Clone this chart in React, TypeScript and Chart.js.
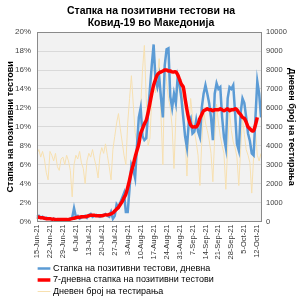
import React, { useEffect, useRef } from "react";
import { Chart, registerables } from "chart.js";

Chart.register(...registerables);

const startDate = "2021-06-15";
const tickLabels = ["15-Jun-21","22-Jun-21","29-Jun-21","6-Jul-21","13-Jul-21","20-Jul-21","27-Jul-21","3-Aug-21","10-Aug-21","17-Aug-21","24-Aug-21","31-Aug-21","7-Sep-21","14-Sep-21","21-Sep-21","28-Sep-21","5-Oct-21","12-Oct-21"];

const positivityDaily = [
  0.5,0.6,0.4,0.5,0.3,0.4,0.3,
  0.3,0.2,0.3,0.2,0.1,0.2,0.1,
  0.1,0.2,0.1,0.2,0.3,0.4,1.4,
  0.5,0.6,0.3,0.4,0.5,0.6,0.4,
  0.7,0.8,0.5,0.6,0.7,0.6,0.5,
  0.6,0.7,0.8,0.6,0.5,1.0,0.3,
  0.6,1.8,1.5,2.0,2.5,3.0,1.0,
  1.0,3.5,6.0,5.5,4.6,8.0,11.0,
  12.0,9.0,8.6,8.8,11.4,14.0,16.5,
  18.7,15.0,14.2,15.3,13.0,11.0,16.5,
  18.2,18.3,13.2,12.0,13.5,12.5,15.3,
  14.5,13.0,11.0,9.0,7.8,10.5,10.9,
  9.3,9.5,10.7,9.5,8.9,12.0,13.5,
  14.4,13.5,12.5,11.0,8.6,13.5,14.6,
  14.0,14.2,11.0,8.9,7.8,13.0,14.2,
  14.0,14.4,11.5,8.2,7.5,11.5,13.0,
  12.5,11.0,9.3,8.5,7.2,7.0,11.0,
  14.8,13.5,11.0
];

const positivity7Day = [
  0.5,0.45,0.4,0.4,0.35,0.3,0.3,
  0.3,0.25,0.25,0.2,0.2,0.2,0.2,
  0.2,0.2,0.2,0.2,0.25,0.3,0.35,
  0.4,0.45,0.45,0.5,0.5,0.5,0.55,
  0.6,0.65,0.65,0.65,0.6,0.6,0.6,
  0.6,0.65,0.7,0.7,0.75,0.8,0.9,
  1.1,1.3,1.5,1.8,2.1,2.5,2.9,
  3.6,4.4,5.3,6.0,6.8,7.5,8.2,
  9.3,9.8,10.3,10.7,11.5,12.5,13.5,
  14.4,15.0,15.5,15.7,15.8,15.9,16.0,
  16.0,15.9,15.9,15.8,15.8,15.8,15.5,
  15.0,14.5,14.2,13.0,11.8,10.8,10.2,
  10.0,10.0,10.0,10.3,10.9,11.3,11.7,
  11.8,11.9,11.8,11.8,11.7,11.8,11.8,
  11.8,11.9,11.8,11.7,11.8,11.9,11.7,
  11.8,11.8,11.9,11.8,11.5,11.3,11.0,
  10.9,10.5,10.0,9.8,9.6,9.6,10.2,
  11.0,null,null
];

const dailyTests = [
  3600,3800,3400,3700,3300,2600,2200,
  3700,3500,3200,3600,2900,2700,3300,
  3400,3000,3500,3200,2700,1300,3000,
  3500,3300,3700,3100,2800,2000,3200,
  3600,3400,3800,3300,2900,2300,3500,
  3900,3600,4100,3500,2900,2200,3800,
  4500,5200,5700,4900,4200,3500,3000,
  5200,6500,7700,6200,4700,4200,5500,
  6000,8000,9300,6500,4000,4400,6500,
  7200,6800,7500,8600,5500,3000,8300,
  7400,6500,6000,5000,2800,5500,7500,
  6800,7200,6000,4500,2400,4800,6500,
  5500,4800,4200,3500,1900,4200,5900,
  5200,4800,4300,3600,2100,4500,6200,
  5200,4500,4000,3600,1700,3900,5800,
  4800,4200,3900,3400,1900,3800,5500,
  4600,3800,3500,3100,1500,3400,4800,
  3500,3200,3600
];

const seriesNames = [
  "Стапка на позитивни тестови, дневна",
  "7-дневна стапка на позитивни тестови",
  "Дневен број на тестирања",
];
const titleLines = ["Стапка на позитивни тестови на", "Ковид-19 во Македонија"];
const leftAxisTitle = "Стапка на позитивни тестови";
const rightAxisTitle = "Дневен број на тестирања";

const MONTHS = ["Jan","Feb","Mar","Apr","May","Jun","Jul","Aug","Sep","Oct","Nov","Dec"];
function buildDayLabels(n: number): string[] {
  const out: string[] = [];
  const d0 = new Date(startDate + "T12:00:00Z");
  for (let i = 0; i < n; i++) {
    const d = new Date(d0.getTime() + i * 86400000);
    out.push(`${d.getUTCDate()}-${MONTHS[d.getUTCMonth()]}-21`);
  }
  return out;
}

const FONT = "'Liberation Sans', Arial, sans-serif";

const plotBg = {
  id: "plotBg",
  beforeDraw(chart: any) {
    const { ctx, chartArea: a } = chart;
    ctx.save();
    ctx.fillStyle = "#f2f2f2";
    ctx.fillRect(a.left, a.top, a.right - a.left, a.bottom - a.top);
    ctx.restore();
  },
  afterDatasetsDraw(chart: any) {
    const { ctx, chartArea: a } = chart;
    ctx.save();
    ctx.strokeStyle = "#8a8a8a";
    ctx.lineWidth = 1;
    ctx.strokeRect(Math.round(a.left) + 0.5, Math.round(a.top) + 0.5, Math.round(a.right - a.left), Math.round(a.bottom - a.top));
    ctx.restore();
  },
};

export default function App() {
  const ref = useRef<HTMLCanvasElement | null>(null);
  useEffect(() => {
    if (!ref.current) return;
    const labels = buildDayLabels(positivityDaily.length);
    const chart = new Chart(ref.current, {
      type: "line",
      data: {
        labels,
        datasets: [
          {
            label: seriesNames[0],
            data: positivityDaily,
            borderColor: "#5b9bd5",
            backgroundColor: "#5b9bd5",
            borderWidth: 2.5,
            pointRadius: 0,
            tension: 0,
            yAxisID: "y",
            order: 1,
          },
          {
            label: seriesNames[1],
            data: positivity7Day,
            borderColor: "#ff0000",
            backgroundColor: "#ff0000",
            borderWidth: 3.5,
            pointRadius: 0,
            tension: 0.3,
            yAxisID: "y",
            order: 0,
          },
          {
            label: seriesNames[2],
            data: dailyTests,
            borderColor: "#f7e0b0",
            backgroundColor: "#f7e0b0",
            borderWidth: 1,
            pointRadius: 0,
            tension: 0,
            yAxisID: "y1",
            order: 2,
          },
        ],
      },
      options: {
        animation: false,
        responsive: true,
        maintainAspectRatio: false,
        layout: { padding: { left: 5, right: 3, top: 0, bottom: 0 } },
        plugins: {
          tooltip: { enabled: false },
          title: {
            display: true,
            text: titleLines,
            color: "#000",
            font: { family: FONT, size: 10.5, weight: "bold", lineHeight: 1.15 },
            padding: { top: 5, bottom: 3 },
          },
          legend: {
            position: "bottom",
            align: "start",
            fullSize: false,
            labels: {
              usePointStyle: true,
              pointStyle: "line",
              boxWidth: 17,
              padding: 2.5,
              color: "#000",
              font: { family: FONT, size: 9 },
              sort: (a: any, b: any) => a.datasetIndex - b.datasetIndex,
            },
          },
        },
        scales: {
          x: {
            grid: { display: false, drawTicks: false },
            border: { display: false },
            afterFit: (s: any) => { s.height = 40; },
            ticks: {
              autoSkip: false,
              maxRotation: 90,
              minRotation: 90,
              padding: 3,
              color: "#333",
              font: { family: FONT, size: 7.5 },
              callback: (_v: any, i: number) => (i % 7 === 0 ? tickLabels[i / 7] ?? labels[i] : null),
            },
          },
          y: {
            position: "left",
            min: 0,
            max: 20,
            afterFit: (s: any) => { s.width = 32; },
            grid: { color: "#d9d9d9", drawTicks: false },
            border: { display: false },
            ticks: {
              stepSize: 2,
              padding: 6,
              color: "#444",
              font: { family: FONT, size: 8 },
              callback: (v: any) => `${v}%`,
            },
            title: {
              display: true,
              text: leftAxisTitle,
              color: "#000",
              font: { family: FONT, size: 9, weight: "bold" },
              padding: { top: 0, bottom: 1 },
            },
          },
          y1: {
            position: "right",
            min: 0,
            max: 10000,
            afterFit: (s: any) => { s.width = 36; },
            grid: { display: false, drawTicks: false },
            border: { display: false },
            ticks: {
              stepSize: 1000,
              padding: 5,
              color: "#444",
              font: { family: FONT, size: 7.5 },
              callback: (v: any) => String(v),
            },
            title: {
              display: true,
              text: rightAxisTitle,
              color: "#000",
              font: { family: FONT, size: 9, weight: "bold" },
              padding: { top: 0, bottom: 0 },
            },
          },
        },
      },
      plugins: [plotBg],
    });
    return () => chart.destroy();
  }, []);
  return (
    <div style={{ position: "absolute", left: 0, top: 0, width: 300, height: 306, background: "#fff" }}>
      <canvas ref={ref} />
    </div>
  );
}
